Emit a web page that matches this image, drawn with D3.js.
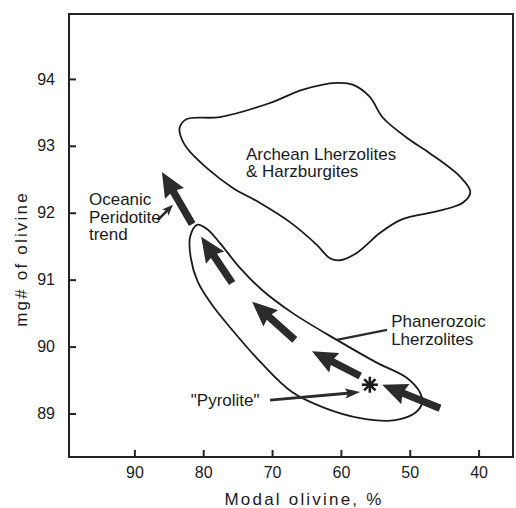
<!DOCTYPE html>
<html>
<head>
<meta charset="utf-8">
<script src="https://cdn.jsdelivr.net/npm/d3@7"></script>
<style>
  html, body { margin: 0; padding: 0; background: #fff; }
  svg { display: block; font-family: "Liberation Sans", Arial, Helvetica, sans-serif; }
  .lbl { font-size: 17px; fill: #1b1b1b; }
  .tick text { font-size: 16px; fill: #1b1b1b; font-family: "Liberation Sans", Arial, sans-serif; }
  .tick line { stroke: #222; stroke-width: 2px; }
</style>
</head>
<body>
<div id="chart"></div>
<script>
// axis ticks
const xTicks = [90, 80, 70, 60, 50, 40];
const yTicks = [89, 90, 91, 92, 93, 94];

// field outlines, [modal olivine %, mg#]
const archeanField = [
  [83.4, 93.28], [82.4, 93.40], [77.6, 93.43], [70.3, 93.64], [65.5, 93.84],
  [60.6, 93.94], [58.2, 93.91], [55.8, 93.73], [53.9, 93.42], [50.0, 93.09],
  [47.1, 92.89], [42.7, 92.54], [41.2, 92.31], [42.3, 92.15], [46.6, 92.01],
  [49.5, 91.95], [51.4, 91.89], [54.3, 91.70], [57.7, 91.40], [60.1, 91.29],
  [61.6, 91.32], [63.5, 91.52], [67.4, 91.86], [71.8, 92.15], [75.7, 92.37],
  [79.5, 92.67], [82.4, 92.97], [83.4, 93.19]
];
const phanerozoicField = [
  [80.9, 91.82], [79.5, 91.76], [77.6, 91.55], [74.7, 91.18], [71.5, 90.85],
  [67.0, 90.50], [60.6, 90.10], [54.8, 89.76], [50.4, 89.53], [48.5, 89.31],
  [48.2, 89.16], [49.2, 89.01], [52.1, 88.90], [57.2, 88.93], [62.3, 89.08],
  [67.1, 89.32], [71.7, 89.77], [75.8, 90.25], [78.7, 90.62], [80.8, 90.97],
  [81.8, 91.32], [81.9, 91.64]
];

// trend arrows: tail -> head
const trendArrows = [
  [[45.6, 89.08], [54.0, 89.43]],
  [[57.2, 89.56], [64.2, 89.93]],
  [[66.7, 90.10], [72.9, 90.67]],
  [[75.8, 90.95], [80.3, 91.64]],
  [[81.6, 91.83], [86.0, 92.61]]
];

const pyrolite = [55.8, 89.43];

// pointers and leader lines
const oceanicPointer = [[86.6, 91.89], [84.4, 92.12]];
const pyrolitePointer = [[70.3, 89.20], [57.2, 89.32]];
const phanLeader = [[60.6, 90.10], [53.3, 90.25]];

// text labels: anchor + lines
const labels = [
  { pos: [73.8, 92.79], lines: ['Archean Lherzolites', '& Harzburgites'] },
  { pos: [96.6, 92.11], lines: ['Oceanic', 'Peridotite', 'trend'] },
  { pos: [52.7, 90.29], lines: ['Phanerozoic', 'Lherzolites'] },
  { pos: [81.8, 89.11], lines: ['"Pyrolite"'] }
];

const W = 516, H = 508;
const frame = { left: 69, right: 513, top: 14, bottom: 457 };

const svg = d3.select('#chart').append('svg')
  .attr('width', W)
  .attr('height', H);

const x = d3.scaleLinear().domain([99.5, 35]).range([frame.left, frame.right]);
const y = d3.scaleLinear().domain([88.35, 94.97]).range([frame.bottom, frame.top]);

// axes, ticks pointing inward
svg.append('g')
  .attr('transform', 'translate(0,' + frame.bottom + ')')
  .call(d3.axisBottom(x).tickValues(xTicks).tickSize(-7).tickPadding(10).tickFormat(d3.format('d')))
  .call(g => g.select('.domain').remove());

svg.append('g')
  .attr('transform', 'translate(' + frame.left + ',0)')
  .call(d3.axisLeft(y).tickValues(yTicks).tickSize(-7).tickPadding(14).tickFormat(d3.format('d')))
  .call(g => g.select('.domain').remove());

// frame
svg.append('rect')
  .attr('x', frame.left).attr('y', frame.top)
  .attr('width', frame.right - frame.left)
  .attr('height', frame.bottom - frame.top)
  .attr('fill', 'none')
  .attr('stroke', '#222')
  .attr('stroke-width', 2);

// axis titles
svg.append('text')
  .attr('x', 304).attr('y', 505)
  .attr('text-anchor', 'middle')
  .style('font-size', '17px')
  .style('letter-spacing', '2.2px')
  .attr('fill', '#1b1b1b')
  .text('Modal olivine, %');

svg.append('text')
  .attr('transform', 'translate(27,259) rotate(-90)')
  .attr('text-anchor', 'middle')
  .style('font-size', '17px')
  .style('letter-spacing', '2.2px')
  .attr('fill', '#1b1b1b')
  .text('mg# of olivine');

// field outlines
const outline = d3.line()
  .x(d => x(d[0]))
  .y(d => y(d[1]))
  .curve(d3.curveCatmullRomClosed.alpha(0.5));

svg.append('path')
  .attr('d', outline(archeanField))
  .attr('fill', 'none')
  .attr('stroke', '#1b1b1b')
  .attr('stroke-width', 1.8);

svg.append('path')
  .attr('d', outline(phanerozoicField))
  .attr('fill', 'none')
  .attr('stroke', '#1b1b1b')
  .attr('stroke-width', 1.8);

// builds an arrow polygon in pixel space
function arrowPath(tail, head, w, L, hw) {
  const t = [x(tail[0]), y(tail[1])], h = [x(head[0]), y(head[1])];
  const dx = h[0] - t[0], dy = h[1] - t[1], len = Math.hypot(dx, dy);
  const ux = dx / len, uy = dy / len, nx = -uy, ny = ux;
  const bx = h[0] - ux * L, by = h[1] - uy * L;
  const pts = [
    [t[0] + nx * w / 2, t[1] + ny * w / 2],
    [bx + nx * w / 2, by + ny * w / 2],
    [bx - ux * 2 + nx * hw, by - uy * 2 + ny * hw],
    h,
    [bx - ux * 2 - nx * hw, by - uy * 2 - ny * hw],
    [bx - nx * w / 2, by - ny * w / 2],
    [t[0] - nx * w / 2, t[1] - ny * w / 2]
  ];
  return d3.line()(pts) + 'Z';
}

svg.selectAll('path.trend')
  .data(trendArrows)
  .enter().append('path')
  .attr('class', 'trend')
  .attr('d', d => arrowPath(d[0], d[1], 7.5, 23, 11))
  .attr('fill', '#2b2b2b');

// small pointers
svg.append('path')
  .attr('d', arrowPath(oceanicPointer[0], oceanicPointer[1], 2.6, 9, 4.5))
  .attr('fill', '#2b2b2b');

svg.append('path')
  .attr('d', arrowPath(pyrolitePointer[0], pyrolitePointer[1], 3, 13, 5))
  .attr('fill', '#2b2b2b');

svg.append('line')
  .attr('x1', x(phanLeader[0][0])).attr('y1', y(phanLeader[0][1]))
  .attr('x2', x(phanLeader[1][0])).attr('y2', y(phanLeader[1][1]))
  .attr('stroke', '#2b2b2b')
  .attr('stroke-width', 2.2);

// pyrolite asterisk
const star = svg.append('g')
  .attr('transform', 'translate(' + x(pyrolite[0]) + ',' + y(pyrolite[1]) + ')');
d3.range(4).forEach(function (i) {
  const a = i * Math.PI / 4, r = 8;
  star.append('line')
    .attr('x1', -r * Math.cos(a)).attr('y1', -r * Math.sin(a))
    .attr('x2', r * Math.cos(a)).attr('y2', r * Math.sin(a))
    .attr('stroke', '#1b1b1b')
    .attr('stroke-width', 2.6);
});

// labels
labels.forEach(function (l) {
  const t = svg.append('text')
    .attr('class', 'lbl')
    .attr('x', x(l.pos[0]))
    .attr('y', y(l.pos[1]));
  l.lines.forEach(function (s, i) {
    t.append('tspan')
      .attr('x', x(l.pos[0]))
      .attr('dy', i === 0 ? 0 : 17.5)
      .text(s);
  });
});
</script>
</body>
</html>
